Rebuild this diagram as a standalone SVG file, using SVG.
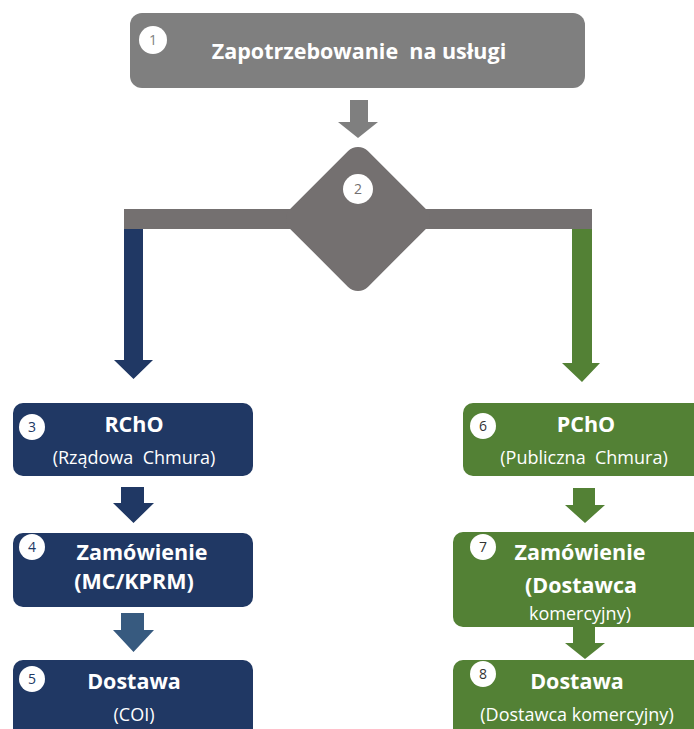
<svg xmlns="http://www.w3.org/2000/svg" width="694" height="729" viewBox="0 0 694 729">
<style>
.t{font-family:"Open Sans","DejaVu Sans",sans-serif;fill:#fff;text-anchor:middle}
.b{font-weight:bold;font-size:21.5px}
.r{font-size:18px}
.n{font-family:"Open Sans","DejaVu Sans",sans-serif;font-size:14px;text-anchor:middle}
.circ{fill:#fff}
</style>
<rect width="694" height="729" fill="#fff"/>
<g id="connectors">
<path d="M350,100 H368 V122 H378 L358,138 L338,122 H350 Z" fill="#7f7f7f"/>
<rect x="124" y="209" width="468" height="20" fill="#747070"/>
<path d="M124,229 H143 V360 H153 L133.5,379 L114,360 H124 Z" fill="#203864"/>
<path d="M572,229 H592 V363 H600 L582,382 L562,363 H572 Z" fill="#538135"/>
<path d="M121,487 H144 V503 H154 L133.5,523 L113,503 H121 Z" fill="#203864"/>
<path d="M121,613 H144 V630 H154 L133.5,652 L113,630 H121 Z" fill="#375a7f"/>
<path d="M573,488 H595 V505 H605 L585,523 L565,505 H573 Z" fill="#538135"/>
<path d="M573,627 H595 V643 H605 L585,659 L565,643 H573 Z" fill="#538135"/>
</g>
<g id="node1">
<rect x="130" y="13" width="455" height="75" rx="12" fill="#7f7f7f"/>
<circle cx="153" cy="40" r="14" class="circ"/>
<text x="153" y="45" class="n" fill="#7f7f7f">1</text>
<text x="359" y="59" class="t b" xml:space="preserve">Zapotrzebowanie  na usługi</text>
</g>
<g id="node2">
<rect x="303" y="164" width="110" height="110" rx="14" fill="#747070" transform="rotate(45 358 219)"/>
<circle cx="358" cy="189" r="15" class="circ"/>
<text x="358" y="194" class="n" fill="#747070">2</text>
</g>
<g id="node3">
<rect x="13" y="403" width="240" height="73" rx="10" fill="#203864"/>
<circle cx="32" cy="427" r="13" class="circ"/>
<text x="32" y="432" class="n" fill="#203864">3</text>
<text x="134" y="432" class="t b">RChO</text>
<text x="134" y="464" class="t r" xml:space="preserve">(Rządowa  Chmura)</text>
</g>
<g id="node4">
<rect x="13" y="533" width="240" height="74" rx="10" fill="#203864"/>
<circle cx="32" cy="547" r="13" class="circ"/>
<text x="32" y="552" class="n" fill="#203864">4</text>
<text x="142" y="560" class="t b">Zamówienie</text>
<text x="134" y="589" class="t b">(MC/KPRM)</text>
</g>
<g id="node5">
<rect x="13" y="660" width="240" height="90" rx="10" fill="#203864"/>
<circle cx="32" cy="679" r="13" class="circ"/>
<text x="32" y="684" class="n" fill="#203864">5</text>
<text x="134" y="689" class="t b">Dostawa</text>
<text x="134" y="721" class="t r">(COI)</text>
</g>
<g id="node6">
<rect x="463" y="403" width="250" height="73" rx="10" fill="#538135"/>
<circle cx="483" cy="426" r="13" class="circ"/>
<text x="483" y="431" class="n" fill="#333">6</text>
<text x="586" y="432" class="t b">PChO</text>
<text x="584" y="464" class="t r" xml:space="preserve">(Publiczna  Chmura)</text>
</g>
<g id="node7">
<rect x="453" y="532" width="260" height="95" rx="10" fill="#538135"/>
<circle cx="483" cy="547" r="13" class="circ"/>
<text x="483" y="552" class="n" fill="#333">7</text>
<text x="580" y="560" class="t b">Zamówienie</text>
<text x="581" y="593" class="t b">(Dostawca</text>
<text x="580" y="620" class="t r">komercyjny)</text>
</g>
<g id="node8">
<rect x="453" y="660" width="260" height="90" rx="10" fill="#538135"/>
<circle cx="483" cy="674" r="13" class="circ"/>
<text x="483" y="679" class="n" fill="#333">8</text>
<text x="577" y="689" class="t b">Dostawa</text>
<text x="577" y="721" class="t r">(Dostawca komercyjny)</text>
</g>
</svg>
